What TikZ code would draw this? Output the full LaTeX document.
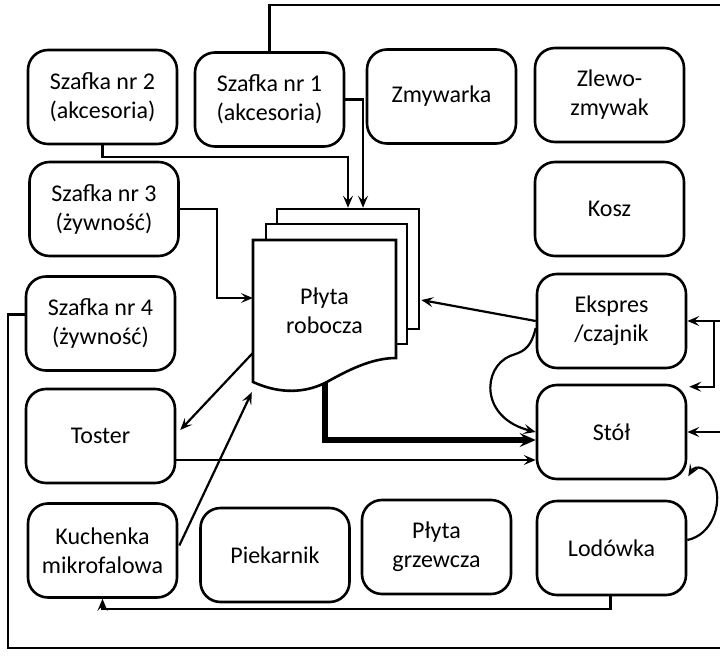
\documentclass[tikz,border=0pt]{standalone}
\usepackage{fontspec}
\setmainfont{Carlito}
\usetikzlibrary{arrows.meta,calc}
\begin{document}
\begin{tikzpicture}[x=1pt,y=-1pt,
  box/.style={draw, line width=2.6pt, rounded corners=20pt, minimum width=149pt, minimum height=94pt, inner sep=2pt, align=center, font=\fontsize{24}{29}\selectfont},
  conn/.style={line width=2.2pt, line join=miter},
  thick conn/.style={line width=5.5pt, line join=miter},
  tip/.style={-{Stealth[length=12pt,width=10pt,inset=5pt]}},
  bigtip/.style={-{Stealth[length=16pt,width=14pt,inset=6pt]}},
  page/.style={draw, fill=white, line width=2.6pt, minimum width=142pt, minimum height=120pt, inner sep=0pt}]
\useasboundingbox (0,0) rectangle (720,669);
\clip (0,0) rectangle (720,669);

% boxes
\node[box] (sz2) at (102.5,97) {Szafka nr 2\\(akcesoria)};
\node[box] (sz1) at (269.5,99.5) {Szafka nr 1\\(akcesoria)};
\node[box] (zmyw) at (441.5,96.5) {Zmywarka};
\node[box] (zlew) at (609.5,95) {Zlewo-\\zmywak};
\node[box] (kosz) at (609.5,209) {Kosz};
\node[box] (sz3) at (104,209) {Szafka nr 3\\(żywność)};
\node[box] (sz4) at (100.5,323.5) {Szafka nr 4\\(żywność)};
\node[box] (toster) at (100.5,436) {Toster};
\node[box] (ekspres) at (611.5,321) {Ekspres\\/czajnik};
\node[box] (stol) at (611.5,432) {Stół};
\node[box] (kuch) at (102.5,550.5) {Kuchenka\\mikrofalowa};
\node[box] (piek) at (275,555) {Piekarnik};
\node[box] (plyta) at (436.5,547) {Płyta\\grzewcza};
\node[box] (lod) at (611.5,548) {Lodówka};

% document stack
\node[page] (pg3) at (348,269) {};
\node[page, minimum width=141pt] (pg2) at (336.5,284) {};
\draw[line width=2.6pt, fill=white, line join=miter]
  (253,240) -- (396,240) -- (396,358)
  .. controls (370,358) and (345,372) .. (325,383)
  .. controls (300,395) and (275,392) .. (253,382) -- cycle;
\coordinate (wave) at (325,383);
\node[minimum width=143pt, minimum height=142pt, inner sep=0pt, align=center,
  font=\fontsize{24}{29}\selectfont] (pr) at (324.5,311) {Płyta\\robocza};

% connectors
\draw[conn,tip] (sz2.south) -- ++(0,12) -| (pg3.north);
\draw[conn,tip] (sz1.east) -| ($(pg3.north)+(15,0)$);
\draw[conn,tip] (sz3.east) -| ++(37,89) -- ($(pr.west)+(0,-13)$);
\draw[conn,tip] (sz1.north) -- (sz1.north |- 0,5) -- (722,5) -- (722,321) -- (ekspres.east);
\draw[conn,tip] ($(ekspres.east)+(27,0)$) |- ($(stol.north east)+(2,3)$);
\draw[conn,tip] ($(sz4.west)+(0,-9)$) -- (8,314.5) -- (8,648) -- (722,648) -- (722,432) -- (stol.east);
\draw[conn,tip] (ekspres.west) -- ($(pg3.east)+(1,31)$);
\draw[conn,tip] ($(ekspres.west)+(0,7)$) .. controls (530,352) and (520,352) .. (510,356)
  .. controls (482,368) and (480,418) .. (stol.west);
\draw[thick conn,bigtip] (wave) |- ($(stol.west)+(0,8)$);
\draw[conn,tip] ($(toster.east)+(0,24)$) -- ($(stol.west)+(0,28)$);
\draw[conn,tip] ($(pr.west)+(0,42)$) -- ($(toster.east)+(4,-6)$);
\draw[conn,tip] ($(kuch.east)+(1,-5)$) -- ($(pr.south west)+(-1,10)$);
\draw[conn,tip] ($(lod.east)+(0,-8)$) .. controls (712,535) and (722,505) .. (715,485)
  .. controls (708,465) and (695,465) .. ($(stol.south east)+(1,-4)$);
\draw[conn,tip] ($(lod.south)+(-1,0)$) -- ++(0,13) -| (kuch.south);
\end{tikzpicture}
\end{document}
